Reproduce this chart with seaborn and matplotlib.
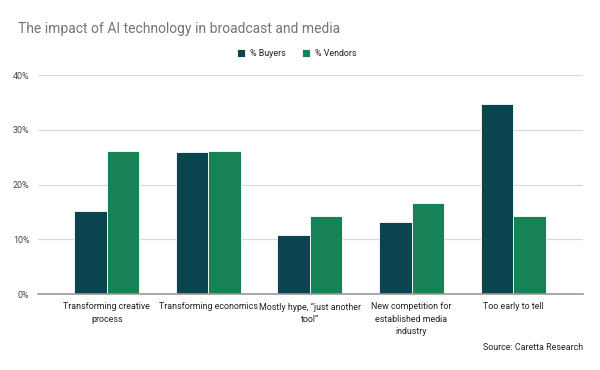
import pandas as pd
import matplotlib
matplotlib.use("Agg")
import matplotlib.pyplot as plt
import seaborn as sns

categories = [
    "Transforming creative\nprocess",
    "Transforming economics",
    "Mostly hype, \u201cjust another\ntool\u201d",
    "New competition for\nestablished media\nindustry",
    "Too early to tell",
]
buyers = [15.2, 25.9, 10.8, 13.2, 34.7]
vendors = [26.1, 26.1, 14.2, 16.6, 14.2]
yticks = [0, 10, 20, 30, 40]

df = pd.DataFrame({
    "category": categories * 2,
    "value": buyers + vendors,
    "series": ["% Buyers"] * len(categories) + ["% Vendors"] * len(categories),
})

sns.set_theme(style="white")
plt.rcParams["font.family"] = ["Roboto", "DejaVu Sans"]

fig = plt.figure(figsize=(6, 3.7), dpi=100)
ax = fig.add_axes([0.063, 0.205, 0.909, 0.592])

sns.barplot(data=df, x="category", y="value", hue="series",
            palette=["#0a444f", "#178256"], saturation=1, width=0.64,
            edgecolor="white", linewidth=0.6, ax=ax)

ax.set_ylim(0, 40)
ax.set_xlim(-0.68, 4.69)
ax.set_yticks(yticks)
ax.set_yticklabels([f"{t}%" for t in yticks], fontsize=6.4, color="#444444")
ax.tick_params(axis="x", labelsize=6.4, colors="#222222", length=0, pad=6)
ax.tick_params(axis="y", length=0, pad=6)
for lbl in ax.get_xticklabels():
    lbl.set_linespacing(1.45)
ax.grid(axis="y", color="#d9d9d9", linewidth=0.9)
ax.set_axisbelow(True)
for s in ["top", "right", "left"]:
    ax.spines[s].set_visible(False)
ax.spines["bottom"].set_color("#999999")
ax.spines["bottom"].set_linewidth(1.2)
ax.set_xlabel("")
ax.set_ylabel("")

ax.legend(loc="upper center", bbox_to_anchor=(0.475, 1.155), ncol=2, frameon=False,
          fontsize=6.4, handlelength=0.9, handleheight=0.9, columnspacing=1.8,
          handletextpad=0.6, labelcolor="#222222")

fig.text(0.03, 0.91, "The impact of AI technology in broadcast and media",
         fontsize=10, color="#757575")
fig.text(0.972, 0.055, "Source: Caretta Research", fontsize=6.4, ha="right",
         color="#222222")

plt.savefig("out.png", dpi=100)
